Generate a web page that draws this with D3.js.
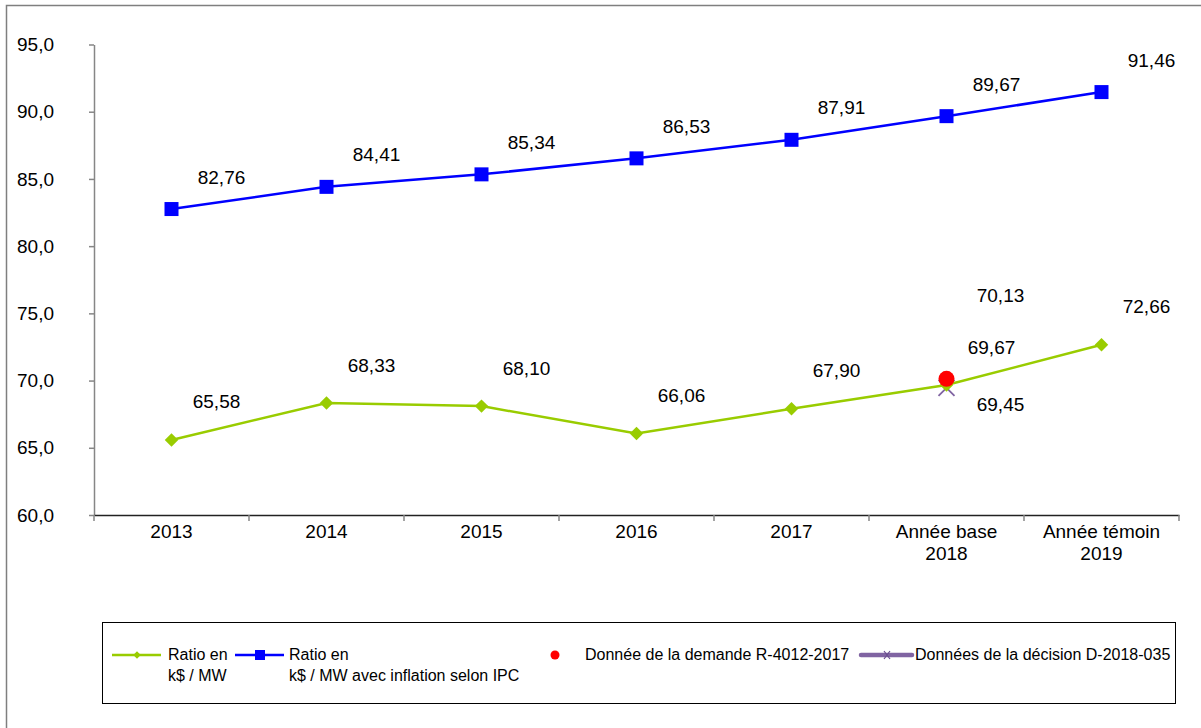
<!DOCTYPE html>
<html>
<head>
<meta charset="utf-8">
<script src="https://cdn.jsdelivr.net/npm/d3@7"></script>
<style>
  html, body { margin: 0; padding: 0; background: #fff; }
  svg { display: block; font-family: "Liberation Sans", Arial, sans-serif; }
</style>
</head>
<body>
<svg id="chart" width="1201" height="728"></svg>
<script>
// Categories (x axis), two lines per label where needed
const categories = ["2013", "2014", "2015", "2016", "2017", "Année base\n2018", "Année témoin\n2019"];
// Ratio en k$ / MW
const ratio = [65.58, 68.33, 68.10, 66.06, 67.90, 69.67, 72.66];
// Ratio en k$ / MW avec inflation selon IPC
const ratioIPC = [82.76, 84.41, 85.34, 86.53, 87.91, 89.67, 91.46];
// Single points for the base year
const demandeCategory = "Année base\n2018";
const demandeValue = 70.13;   // Donnée de la demande R-4012-2017
const decisionValue = 69.45;  // Données de la décision D-2018-035
// Y axis ticks
const yTicks = [60, 65, 70, 75, 80, 85, 90, 95];

const svg = d3.select("#chart");
const fmt1 = d => d3.format(".1f")(d).replace(".", ",");
const fmt2 = d => d3.format(".2f")(d).replace(".", ",");

const COL_GREEN = "#99CC00", COL_BLUE = "#0000FF", COL_RED = "#FF0000", COL_PURPLE = "#8064A2";

// Outer frame
svg.append("rect").attr("x", 6.5).attr("y", 5.5).attr("width", 1300).attr("height", 800)
  .attr("fill", "none").attr("stroke", "#7f7f7f").attr("stroke-width", 1.5);

const x = d3.scaleBand().domain(categories).range([94, 1179]);
const y = d3.scaleLinear().domain([60, 95]).range([515, 44.5]);
const cx = c => x(c) + x.bandwidth() / 2;

// Y axis
const yAxis = svg.append("g").attr("transform", "translate(94,0)")
  .call(d3.axisLeft(y).tickValues(yTicks).tickFormat(fmt1).tickSize(5).tickPadding(35).tickSizeOuter(0));
yAxis.select(".domain").attr("stroke", "#868686").attr("stroke-width", 1.5);
yAxis.selectAll(".tick line").attr("stroke", "#868686").attr("stroke-width", 1.5);
yAxis.selectAll(".tick text").attr("font-size", 19).attr("fill", "#000")
  .attr("font-family", "Liberation Sans, Arial, sans-serif");

// X axis: baseline, boundary ticks and category labels
const xAxis = svg.append("g").attr("transform", "translate(0,515)")
  .call(d3.axisBottom(x).tickSize(0).tickPadding(0).tickSizeOuter(0));
xAxis.select(".domain").attr("stroke", "#222").attr("stroke-width", 1.5);
xAxis.selectAll(".tick text").each(function(d) {
  const t = d3.select(this).text(null).attr("font-size", 19).attr("fill", "#000")
    .attr("font-family", "Liberation Sans, Arial, sans-serif").attr("y", 0).attr("dy", null);
  d.split("\n").forEach((line, i) => {
    t.append("tspan").attr("x", 0).attr("y", 23 + i * 22).text(line);
  });
});
const bounds = categories.map(c => x(c)).concat([x.range()[1]]);
xAxis.selectAll("line.bound").data(bounds).join("line").attr("class", "bound")
  .attr("x1", d => d).attr("x2", d => d).attr("y1", 0).attr("y2", 6)
  .attr("stroke", "#868686").attr("stroke-width", 1.5);

const line = d3.line().x((d, i) => cx(categories[i])).y(d => y(d));

// Décision point (drawn beneath the green line)
const dX = cx(demandeCategory), dY = y(decisionValue);
const xs = 8;
svg.append("path")
  .attr("d", `M${dX - xs},${dY - xs}L${dX + xs},${dY + xs}M${dX - xs},${dY + xs}L${dX + xs},${dY - xs}`)
  .attr("stroke", COL_PURPLE).attr("stroke-width", 1.8).attr("fill", "none");

// Blue series
svg.append("path").datum(ratioIPC).attr("d", line)
  .attr("fill", "none").attr("stroke", COL_BLUE).attr("stroke-width", 2.5);
svg.selectAll("rect.sq").data(ratioIPC).join("rect").attr("class", "sq")
  .attr("x", (d, i) => cx(categories[i]) - 7).attr("y", d => y(d) - 7)
  .attr("width", 14).attr("height", 14).attr("fill", COL_BLUE);

// Green series
svg.append("path").datum(ratio).attr("d", line)
  .attr("fill", "none").attr("stroke", COL_GREEN).attr("stroke-width", 2.5);
const diamond = d3.symbol().type(d3.symbolDiamond2).size(115);
svg.selectAll("path.dm").data(ratio).join("path").attr("class", "dm")
  .attr("d", diamond)
  .attr("transform", (d, i) => `translate(${cx(categories[i])},${y(d)})`)
  .attr("fill", COL_GREEN);

// Demande point
svg.append("circle").attr("cx", dX).attr("cy", y(demandeValue)).attr("r", 8).attr("fill", COL_RED);

// Value labels
function labels(values, dx, dy, cls) {
  svg.selectAll("text." + cls).data(values).join("text").attr("class", cls)
    .attr("x", (d, i) => cx(categories[i]) + dx).attr("y", d => y(d) + dy)
    .attr("text-anchor", "middle").attr("dominant-baseline", "central")
    .attr("font-size", 19).attr("fill", "#000").text(fmt2);
}
labels(ratioIPC, 50, -32, "lblB");
labels(ratio, 45, -38, "lblG");
svg.append("text").attr("x", dX + 54).attr("y", y(demandeValue) - 83)
  .attr("text-anchor", "middle").attr("dominant-baseline", "central")
  .attr("font-size", 19).text(fmt2(demandeValue));
svg.append("text").attr("x", dX + 54).attr("y", dY + 17)
  .attr("text-anchor", "middle").attr("dominant-baseline", "central")
  .attr("font-size", 19).text(fmt2(decisionValue));

// Legend
const lg = svg.append("g");
lg.append("rect").attr("x", 102.5).attr("y", 622.5).attr("width", 1073).attr("height", 81)
  .attr("fill", "#fff").attr("stroke", "#000").attr("stroke-width", 1);
const ly = 655;
function legendText(xp, lines) {
  const t = lg.append("text").attr("x", xp).attr("font-size", 16).attr("fill", "#000");
  lines.forEach((s, i) => t.append("tspan").attr("x", xp).attr("y", ly + 5 + i * 21).text(s));
}
// green entry
lg.append("line").attr("x1", 112).attr("x2", 161).attr("y1", ly).attr("y2", ly)
  .attr("stroke", COL_GREEN).attr("stroke-width", 2.5);
lg.append("path").attr("d", d3.symbol().type(d3.symbolDiamond2).size(36))
  .attr("transform", `translate(137,${ly})`).attr("fill", COL_GREEN);
legendText(168, ["Ratio en", "k$ / MW"]);
// blue entry
lg.append("line").attr("x1", 235).attr("x2", 284).attr("y1", ly).attr("y2", ly)
  .attr("stroke", COL_BLUE).attr("stroke-width", 2.5);
lg.append("rect").attr("x", 255).attr("y", ly - 5).attr("width", 10).attr("height", 10).attr("fill", COL_BLUE);
legendText(289, ["Ratio en", "k$ / MW avec inflation selon IPC"]);
// red entry
lg.append("circle").attr("cx", 555).attr("cy", ly).attr("r", 4.5).attr("fill", COL_RED);
legendText(585, ["Donnée de la demande R-4012-2017"]);
// purple entry
lg.append("line").attr("x1", 861).attr("x2", 912).attr("y1", ly).attr("y2", ly)
  .attr("stroke", COL_PURPLE).attr("stroke-width", 4.5).attr("stroke-linecap", "round");
lg.append("path").attr("d", `M${884},${ly - 4}L${890},${ly + 4}M${884},${ly + 4}L${890},${ly - 4}`)
  .attr("stroke", "#6a4f8f").attr("stroke-width", 1.2);
legendText(915, ["Données de la décision D-2018-035"]);
</script>
</body>
</html>
